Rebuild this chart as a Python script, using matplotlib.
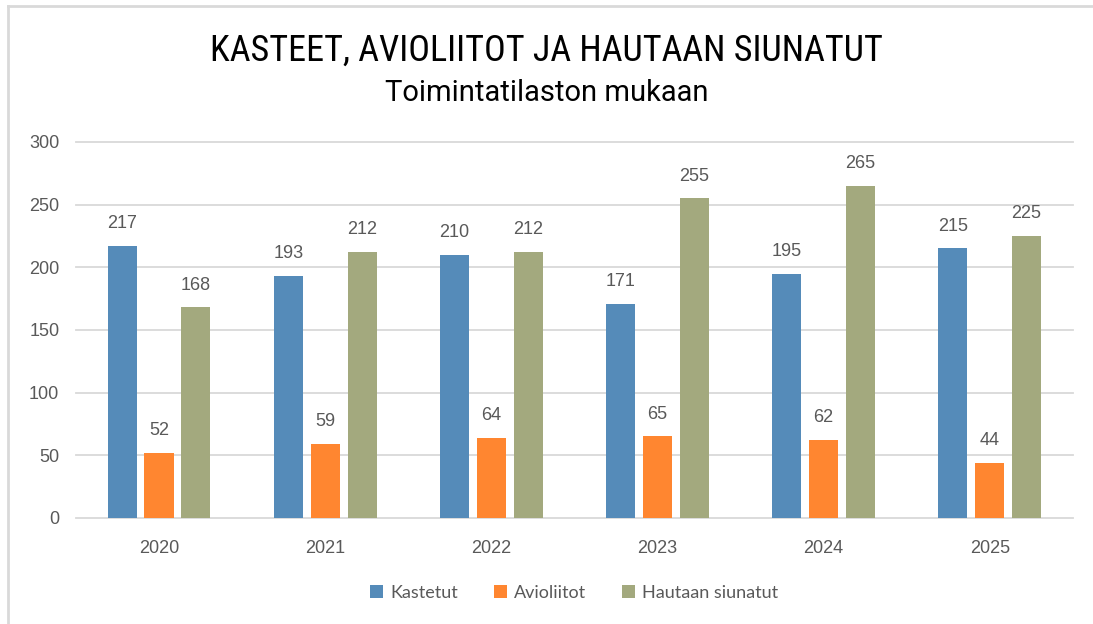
import numpy as np
import matplotlib

matplotlib.use("Agg")
import matplotlib.pyplot as plt
from matplotlib.lines import Line2D

years = ["2020", "2021", "2022", "2023", "2024", "2025"]
kastetut = [217, 193, 210, 171, 195, 215]
avioliitot = [52, 59, 64, 65, 62, 44]
hautaan = [168, 212, 212, 255, 265, 225]

series = [
    ("Kastetut", kastetut, "#558BB9"),
    ("Avioliitot", avioliitot, "#FF8630"),
    ("Hautaan siunatut", hautaan, "#A3A97E"),
]

text_gray = "#595959"
plt.rcParams["font.family"] = ["Liberation Sans", "DejaVu Sans"]
title_font = ["Roboto Condensed", "Roboto", "DejaVu Sans"]
sub_font = ["Roboto", "DejaVu Sans"]

fig = plt.figure(figsize=(10.93, 6.24), dpi=100)
ax = fig.add_axes([0.0695, 0.17, 0.912, 0.6025])

x = np.arange(len(years))
width = 0.175
step = 0.222
for i, (name, vals, color) in enumerate(series):
    pos = x + (i - 1) * step
    bars = ax.bar(pos, vals, width, color=color, label=name, zorder=3)
    for b, v in zip(bars, vals):
        ax.text(b.get_x() + b.get_width() / 2, v + 11, str(v), ha="center",
                va="bottom", fontsize=13, color=text_gray)

ax.set_xlim(-0.5, len(years) - 0.5)
ax.set_ylim(0, 300)
ax.set_yticks(range(0, 301, 50))
ax.set_xticks(x)
ax.set_xticklabels(years)
ax.yaxis.grid(True, color="#D9D9D9", linewidth=1.3, zorder=0)
for gl in ax.get_ygridlines():
    gl.set_clip_on(False)
ax.tick_params(axis="both", length=0, labelsize=13, colors=text_gray)
ax.tick_params(axis="y", pad=12)
ax.tick_params(axis="x", pad=16)
for s in ax.spines.values():
    s.set_visible(False)

fig.text(0.5, 0.918, "KASTEET, AVIOLIITOT JA HAUTAAN SIUNATUT", ha="center",
         va="center", fontsize=26, family=title_font, color="black")
fig.text(0.5, 0.851, "Toimintatilaston mukaan", ha="center", va="center",
         fontsize=21, family=sub_font, color="black")

ax.legend(loc="center", bbox_to_anchor=(0.5, -0.2), ncol=3, frameon=False,
          prop={"family": ["Lato", "DejaVu Sans"], "size": 13},
          handlelength=0.7, handleheight=0.7, handletextpad=0.4,
          columnspacing=2.0, labelcolor=text_gray)

# chart border (left and top edges visible)
fig.add_artist(Line2D([8 / 1093, 8 / 1093], [0, 1 - 6 / 624],
                      transform=fig.transFigure, color="#D9D9D9", linewidth=2))
fig.add_artist(Line2D([8 / 1093, 1], [1 - 6 / 624, 1 - 6 / 624],
                      transform=fig.transFigure, color="#D9D9D9", linewidth=2))

fig.savefig("out.png", dpi=100)
